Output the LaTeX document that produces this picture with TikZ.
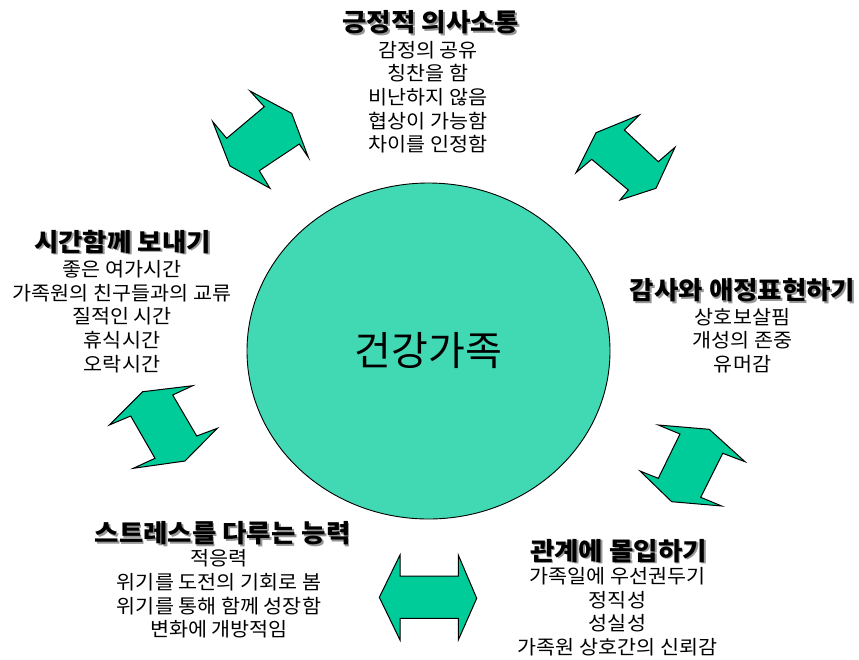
\documentclass[tikz,border=0pt]{standalone}
\usepackage{fontspec}
\newfontfamily\kr{Noto Sans CJK KR}
\newfontfamily\krw[FakeStretch=1.06]{Noto Sans CJK KR}
\usetikzlibrary{shapes.geometric}
\definecolor{arrowfill}{RGB}{0,204,153}
\definecolor{circfill}{RGB}{64,217,179}
\definecolor{shadowgray}{RGB}{150,150,150}
\newcommand{\shadowtitle}[1]{\makebox[0pt][l]{\hspace{1.8pt}\raisebox{-1.8pt}{\textcolor{shadowgray}{#1}}}#1}
\tikzset{
  blockarrow/.style={draw=black, line width=1pt, fill=arrowfill, line join=miter},
  ttl/.style={font=\krw\bfseries\fontsize{25}{29}\selectfont, inner sep=0pt, text=black},
  items/.style={font=\krw\fontsize{19.5}{23.6}\selectfont, inner sep=0pt, align=center, text=black},
}
\begin{document}
\begin{tikzpicture}[x=1pt, y=-1pt]
\useasboundingbox (0,0) rectangle (859,659);
\fill[white] (0,0) rectangle (859,659);

% central ellipse
\node[ellipse, draw=black, line width=0.9pt, fill=circfill, minimum width=363pt, minimum height=336pt, inner sep=0pt,
      font=\kr\fontsize{40}{44}\selectfont] (core) at (428.5,351) {건강가족};

% block arrows
\draw[blockarrow] (250,91) -- (291.7,113.3) -- (308.3,157.3) -- (299.3,144) -- (259.3,170.7) -- (270,188.3) -- (230,166) -- (212.7,121.7) -- (226.7,138.3) -- (264.3,106.7) -- cycle;
\draw[blockarrow] (675,147.3) -- (656,188.3) -- (620,200) -- (628.3,190) -- (591.7,159.3) -- (576,172.7) -- (596,132.7) -- (639.3,115) -- (624.3,130) -- (658.3,161.7) -- cycle;
\draw[blockarrow] (192.7,385.7) -- (142.7,391.7) -- (109.3,425) -- (130.7,416) -- (155,458.3) -- (133.3,468.3) -- (185,461) -- (217.3,428.3) -- (196.7,436) -- (172.7,395) -- cycle;
\draw[blockarrow] (658.3,425) -- (709.3,429.3) -- (745,461.7) -- (722.7,453.3) -- (700.7,497.3) -- (721.7,506) -- (671.7,501.7) -- (640,471) -- (658.3,478.3) -- (680,434) -- cycle;
\draw[blockarrow] (379.3,597.3) -- (400,555) -- (400,576) -- (458.3,576) -- (458.3,555) -- (476.7,598.3) -- (458.3,640) -- (458.3,618.3) -- (400,618.3) -- (400,640) -- cycle;

% titles (with drop shadow)
\node[ttl] (t1) at (430.9,23.4) {\shadowtitle{긍정적 의사소통}};
\node[ttl] (t2) at (122.6,242.6) {\shadowtitle{시간함께 보내기}};
\node[ttl] (t3) at (742.6,290.9) {\shadowtitle{감사와 애정표현하기}};
\node[ttl] (t4) at (222.6,534.2) {\shadowtitle{스트레스를 다루는 능력}};
\node[ttl] (t5) at (618.4,551.7) {\shadowtitle{관계에 몰입하기}};

% item lists
\node[items] (i1) at (428,97.3) {감정의 공유\\칭찬을 함\\비난하지 않음\\협상이 가능함\\차이를 인정함};
\node[items] (i2) at (122,316.5) {좋은 여가시간\\가족원의 친구들과의 교류\\질적인 시간\\휴식시간\\오락시간};
\node[items] (i3) at (742.5,340.5) {상호보살핌\\개성의 존중\\유머감};
\node[items] (i4) at (219,594) {적응력\\위기를 도전의 기회로 봄\\위기를 통해 함께 성장함\\변화에 개방적임};
\node[items] (i5) at (617.5,611.7) {가족일에 우선권두기\\정직성\\성실성\\가족원 상호간의 신뢰감};
\end{tikzpicture}
\end{document}
